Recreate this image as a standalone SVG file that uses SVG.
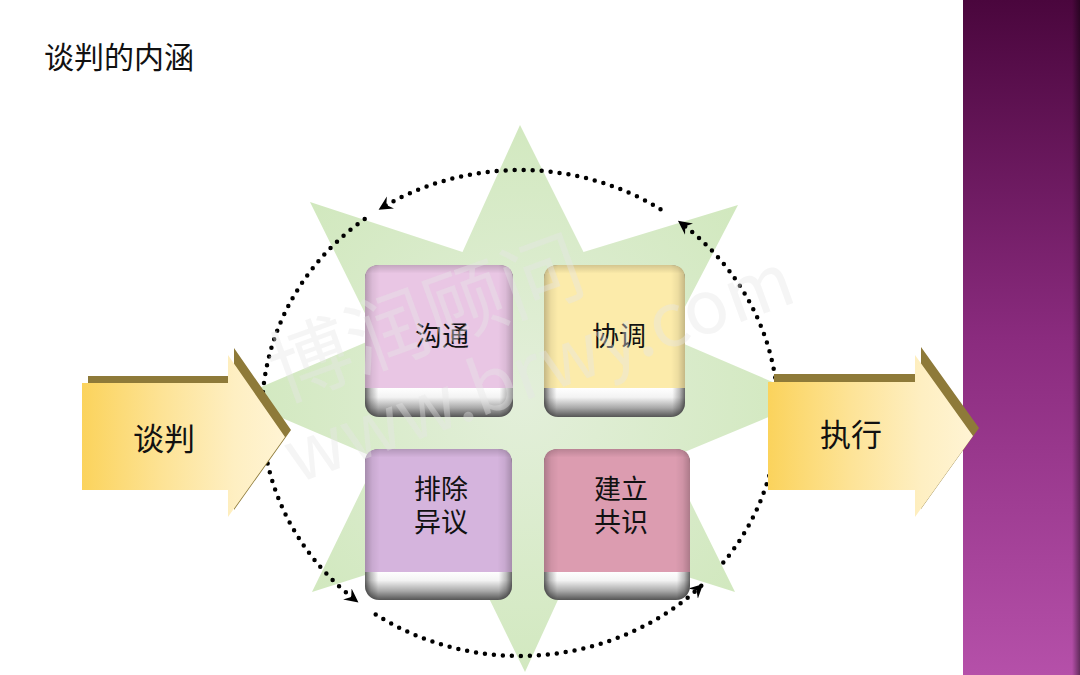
<svg xmlns="http://www.w3.org/2000/svg" width="1080" height="675" viewBox="0 0 1080 675">
  <style>
    .cjk { font-family: "Noto Sans CJK SC", "Noto Sans", sans-serif; fill: #111; }
    .title { font-size: 30px; }
    .key { font-size: 27px; text-anchor: middle; }
    .arr { font-size: 31px; text-anchor: middle; }
    .dots { fill: none; stroke: #000; stroke-width: 4.5; stroke-linecap: round; stroke-dasharray: 0 9; }
    .wm { font-family: "Noto Sans CJK SC", "Liberation Sans", sans-serif; fill: #e6e6e6; fill-opacity: 0.4; }
  </style>
  <defs>
    <linearGradient id="bar" x1="0" y1="0" x2="0" y2="1">
      <stop offset="0" stop-color="#4a063d"/>
      <stop offset="0.5" stop-color="#8a2b7e"/>
      <stop offset="1" stop-color="#b550a9"/>
    </linearGradient>
    <linearGradient id="barEdge" x1="0" y1="0" x2="1" y2="0">
      <stop offset="0" stop-color="#000" stop-opacity="0"/>
      <stop offset="1" stop-color="#000" stop-opacity="0.45"/>
    </linearGradient>
    <radialGradient id="star" cx="523" cy="398" r="290" gradientUnits="userSpaceOnUse">
      <stop offset="0" stop-color="#e3efda"/>
      <stop offset="1" stop-color="#d1e8be"/>
    </radialGradient>
    <linearGradient id="arrowFace" x1="0" y1="0" x2="1" y2="0">
      <stop offset="0" stop-color="#fbd35c"/>
      <stop offset="0.4" stop-color="#fde396"/>
      <stop offset="0.75" stop-color="#feefc2"/>
      <stop offset="1" stop-color="#fff4d4"/>
    </linearGradient>
    <linearGradient id="keyBase" x1="0" y1="0" x2="0" y2="1">
      <stop offset="0" stop-color="#777"/>
      <stop offset="0.80" stop-color="#777"/>
      <stop offset="0.81" stop-color="#ffffff"/>
      <stop offset="0.87" stop-color="#f3f3f3"/>
      <stop offset="0.94" stop-color="#a9a9a9"/>
      <stop offset="1" stop-color="#555"/>
    </linearGradient>
    <linearGradient id="keySide" x1="0" y1="0" x2="1" y2="0">
      <stop offset="0" stop-color="#000" stop-opacity="0.6"/>
      <stop offset="0.04" stop-color="#000" stop-opacity="0.25"/>
      <stop offset="0.09" stop-color="#000" stop-opacity="0"/>
      <stop offset="0.91" stop-color="#000" stop-opacity="0"/>
      <stop offset="0.96" stop-color="#000" stop-opacity="0.25"/>
      <stop offset="1" stop-color="#000" stop-opacity="0.6"/>
    </linearGradient>
    <linearGradient id="faceSide" x1="0" y1="0" x2="1" y2="0">
      <stop offset="0" stop-color="#000" stop-opacity="0.22"/>
      <stop offset="0.05" stop-color="#000" stop-opacity="0.06"/>
      <stop offset="0.1" stop-color="#000" stop-opacity="0"/>
      <stop offset="0.9" stop-color="#000" stop-opacity="0"/>
      <stop offset="0.95" stop-color="#000" stop-opacity="0.06"/>
      <stop offset="1" stop-color="#000" stop-opacity="0.22"/>
    </linearGradient>
    <linearGradient id="faceTop" x1="0" y1="0" x2="0" y2="1">
      <stop offset="0" stop-color="#000" stop-opacity="0.16"/>
      <stop offset="0.07" stop-color="#000" stop-opacity="0"/>
      <stop offset="1" stop-color="#000" stop-opacity="0"/>
    </linearGradient>
    <marker id="chev" viewBox="0 0 14 14" markerWidth="15" markerHeight="15" refX="12" refY="7" orient="auto" markerUnits="userSpaceOnUse">
      <path d="M13,7 L0,0.5 L4.5,7 L0,13.5 Z" fill="#000"/>
    </marker>
  </defs>

  <rect width="1080" height="675" fill="#ffffff"/>

  <g id="side-bar">
    <rect x="963" y="0" width="117" height="675" fill="url(#bar)"/>
    <rect x="1072" y="0" width="8" height="675" fill="url(#barEdge)"/>
  </g>

  <text id="title" class="cjk title" x="44" y="68">谈判的内涵</text>

  <g id="star">
    <polygon fill="url(#star)" points="520,125 583.5,252 738,205 669,337.5 812,399 669,458.5 735,592 583.5,544 525,672 462.5,544 312,592 377,458.5 235,398 377,337.5 310,202 462.5,252"/>
  </g>

  <g id="connectors">
    <path class="dots" d="M660.5,209.2 A258,243 0 0 0 379.5,209.2" marker-end="url(#chev)"/>
    <path class="dots" d="M364.7,218.9 A258,243 0 0 0 357.6,601.8" marker-end="url(#chev)"/>
    <path class="dots" d="M375.7,614.4 A258,243 0 0 0 702.4,584.8" marker-end="url(#chev)"/>
    <path class="dots" d="M723.3,562.6 A258,243 0 0 0 678.8,221.5" marker-end="url(#chev)"/>
  </g>

  <g id="box-goutong" transform="translate(365,265)">
    <rect width="148" height="152" rx="14" fill="url(#keyBase)"/>
    <rect width="148" height="152" rx="14" fill="url(#keySide)"/>
    <path d="M0,123 V14 Q0,0 14,0 H134 Q148,0 148,14 V123 Z" fill="#e9c6e4"/>
    <path d="M0,123 V14 Q0,0 14,0 H134 Q148,0 148,14 V123 Z" fill="url(#faceSide)"/>
    <path d="M0,123 V14 Q0,0 14,0 H134 Q148,0 148,14 V123 Z" fill="url(#faceTop)"/>
    <text class="cjk key" x="77" y="81">沟通</text>
  </g>

  <g id="box-xietiao" transform="translate(544,265)">
    <rect width="141" height="152" rx="14" fill="url(#keyBase)"/>
    <rect width="141" height="152" rx="14" fill="url(#keySide)"/>
    <path d="M0,123 V14 Q0,0 14,0 H127 Q141,0 141,14 V123 Z" fill="#fcebaa"/>
    <path d="M0,123 V14 Q0,0 14,0 H127 Q141,0 141,14 V123 Z" fill="url(#faceSide)"/>
    <path d="M0,123 V14 Q0,0 14,0 H127 Q141,0 141,14 V123 Z" fill="url(#faceTop)"/>
    <text class="cjk key" x="75" y="81">协调</text>
  </g>

  <g id="box-paichu" transform="translate(365,449)">
    <rect width="147" height="151" rx="14" fill="url(#keyBase)"/>
    <rect width="147" height="151" rx="14" fill="url(#keySide)"/>
    <path d="M0,123 V14 Q0,0 14,0 H133 Q147,0 147,14 V123 Z" fill="#d5b4dd"/>
    <path d="M0,123 V14 Q0,0 14,0 H133 Q147,0 147,14 V123 Z" fill="url(#faceSide)"/>
    <path d="M0,123 V14 Q0,0 14,0 H133 Q147,0 147,14 V123 Z" fill="url(#faceTop)"/>
    <text class="cjk key"><tspan x="76" y="50">排除</tspan><tspan x="76" y="83">异议</tspan></text>
  </g>

  <g id="box-jianli" transform="translate(544,449)">
    <rect width="146" height="151" rx="14" fill="url(#keyBase)"/>
    <rect width="146" height="151" rx="14" fill="url(#keySide)"/>
    <path d="M0,123 V14 Q0,0 14,0 H132 Q146,0 146,14 V123 Z" fill="#dc9cb0"/>
    <path d="M0,123 V14 Q0,0 14,0 H132 Q146,0 146,14 V123 Z" fill="url(#faceSide)"/>
    <path d="M0,123 V14 Q0,0 14,0 H132 Q146,0 146,14 V123 Z" fill="url(#faceTop)"/>
    <text class="cjk key"><tspan x="77" y="50">建立</tspan><tspan x="77" y="83">共识</tspan></text>
  </g>

  <g id="arrow-tanpan">
    <path transform="translate(6,-7)" d="M82,383 H228 V355 L285,437 L228,517 V490 H82 Z" fill="#8e7a39"/>
    <path d="M82,383 H228 V355 L285,437 L228,517 V490 H82 Z" fill="url(#arrowFace)"/>
    <text class="cjk arr" x="164" y="450">谈判</text>
  </g>

  <g id="arrow-zhixing">
    <path transform="translate(6,-8)" d="M768,382 H915 V355 L973,436 L915,517 V490 H768 Z" fill="#8e7a39"/>
    <path d="M768,382 H915 V355 L973,436 L915,517 V490 H768 Z" fill="url(#arrowFace)"/>
    <text class="cjk arr" x="851" y="446">执行</text>
  </g>

  <g id="watermark">
    <text class="wm" font-size="82" transform="translate(282,402) rotate(-20)">博润顾问</text>
    <text class="wm" font-size="74" transform="translate(296,484) rotate(-20)">www.brwy.com</text>
  </g>
</svg>
